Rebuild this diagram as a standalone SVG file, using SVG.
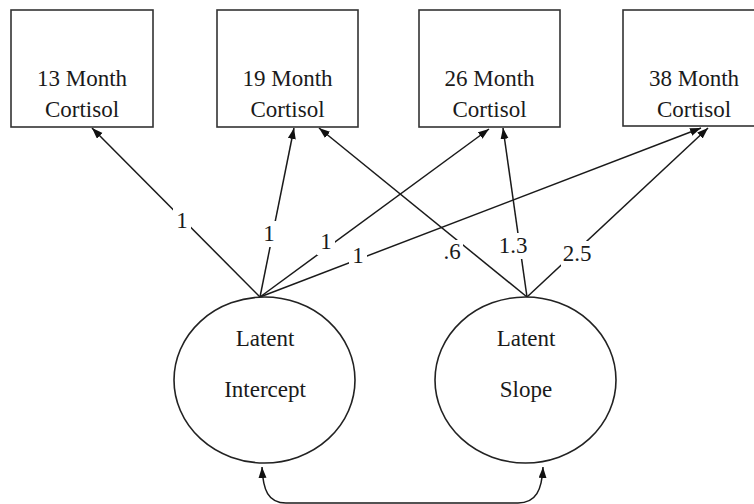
<svg xmlns="http://www.w3.org/2000/svg" width="754" height="504" viewBox="0 0 754 504">
<defs>
<marker id="ah" markerUnits="userSpaceOnUse" markerWidth="12" markerHeight="9" refX="11" refY="4" orient="auto">
<path d="M0,0 L11,4 L0,8 z" fill="#111"/>
</marker>
<marker id="ahs" markerUnits="userSpaceOnUse" markerWidth="12" markerHeight="9" refX="11" refY="4" orient="auto-start-reverse">
<path d="M0,0 L11,4 L0,8 z" fill="#111"/>
</marker>
</defs>
<rect width="754" height="504" fill="#fff"/>
<g id="connectors" fill="none" stroke="#1a1a1a" stroke-width="1.5">
<line x1="260" y1="297" x2="92" y2="128" marker-end="url(#ah)"/>
<line x1="260" y1="297" x2="294" y2="128" marker-end="url(#ah)"/>
<line x1="260" y1="297" x2="489" y2="129" marker-end="url(#ah)"/>
<line x1="260" y1="297" x2="701" y2="128" marker-end="url(#ah)"/>
<line x1="527" y1="297" x2="319" y2="128" marker-end="url(#ah)"/>
<line x1="527" y1="297" x2="503" y2="128" marker-end="url(#ah)"/>
<line x1="527" y1="297" x2="708" y2="128" marker-end="url(#ah)"/>
<path d="M262,467 C263,490 268,503 286,503 L518,503 C536,503 542,490 543,467" marker-start="url(#ahs)" marker-end="url(#ah)"/>
</g>
<g id="labels" font-family="'Liberation Serif', 'Times New Roman', serif" font-size="23" fill="#1a1a1a" text-anchor="middle">
<g fill="#fff" stroke="none">
<rect x="173" y="208" width="18" height="26"/>
<rect x="260" y="221" width="18" height="26"/>
<rect x="317" y="229" width="18" height="26"/>
<rect x="349" y="244" width="18" height="26"/>
<rect x="441" y="240" width="22" height="26"/>
<rect x="498" y="233" width="30" height="26"/>
<rect x="561" y="241" width="32" height="26"/>
</g>
<text x="182" y="228">1</text>
<text x="269" y="241">1</text>
<text x="326" y="249">1</text>
<text x="358" y="263">1</text>
<text x="452" y="259">.6</text>
<text x="513" y="253">1.3</text>
<text x="577" y="261">2.5</text>
</g>
<g id="m13" font-family="'Liberation Serif', 'Times New Roman', serif" font-size="23" text-anchor="middle">
<rect x="11" y="10" width="142" height="117" fill="#fff" stroke="#333" stroke-width="1.6"/>
<text fill="#1a1a1a" x="82" y="86">13 Month</text>
<text fill="#1a1a1a" x="82" y="117">Cortisol</text>
</g>
<g id="m19" font-family="'Liberation Serif', 'Times New Roman', serif" font-size="23" text-anchor="middle">
<rect x="217" y="10" width="141" height="117" fill="#fff" stroke="#333" stroke-width="1.6"/>
<text fill="#1a1a1a" x="287.5" y="86">19 Month</text>
<text fill="#1a1a1a" x="287.5" y="117">Cortisol</text>
</g>
<g id="m26" font-family="'Liberation Serif', 'Times New Roman', serif" font-size="23" text-anchor="middle">
<rect x="419" y="10" width="141" height="117" fill="#fff" stroke="#333" stroke-width="1.6"/>
<text fill="#1a1a1a" x="489.5" y="86">26 Month</text>
<text fill="#1a1a1a" x="489.5" y="117">Cortisol</text>
</g>
<g id="m38" font-family="'Liberation Serif', 'Times New Roman', serif" font-size="23" text-anchor="middle">
<rect x="623" y="10" width="142" height="116" fill="#fff" stroke="#333" stroke-width="1.6"/>
<text fill="#1a1a1a" x="694" y="86">38 Month</text>
<text fill="#1a1a1a" x="694" y="117">Cortisol</text>
</g>
<g id="intercept" font-family="'Liberation Serif', 'Times New Roman', serif" font-size="23" text-anchor="middle">
<ellipse cx="264.5" cy="380" rx="90.5" ry="83" fill="#fff" stroke="#222" stroke-width="1.6"/>
<text fill="#1a1a1a" x="265" y="346">Latent</text>
<text fill="#1a1a1a" x="265" y="397">Intercept</text>
</g>
<g id="slope" font-family="'Liberation Serif', 'Times New Roman', serif" font-size="23" text-anchor="middle">
<ellipse cx="525.5" cy="380" rx="90.5" ry="83" fill="#fff" stroke="#222" stroke-width="1.6"/>
<text fill="#1a1a1a" x="526" y="346">Latent</text>
<text fill="#1a1a1a" x="526" y="397">Slope</text>
</g>
</svg>
